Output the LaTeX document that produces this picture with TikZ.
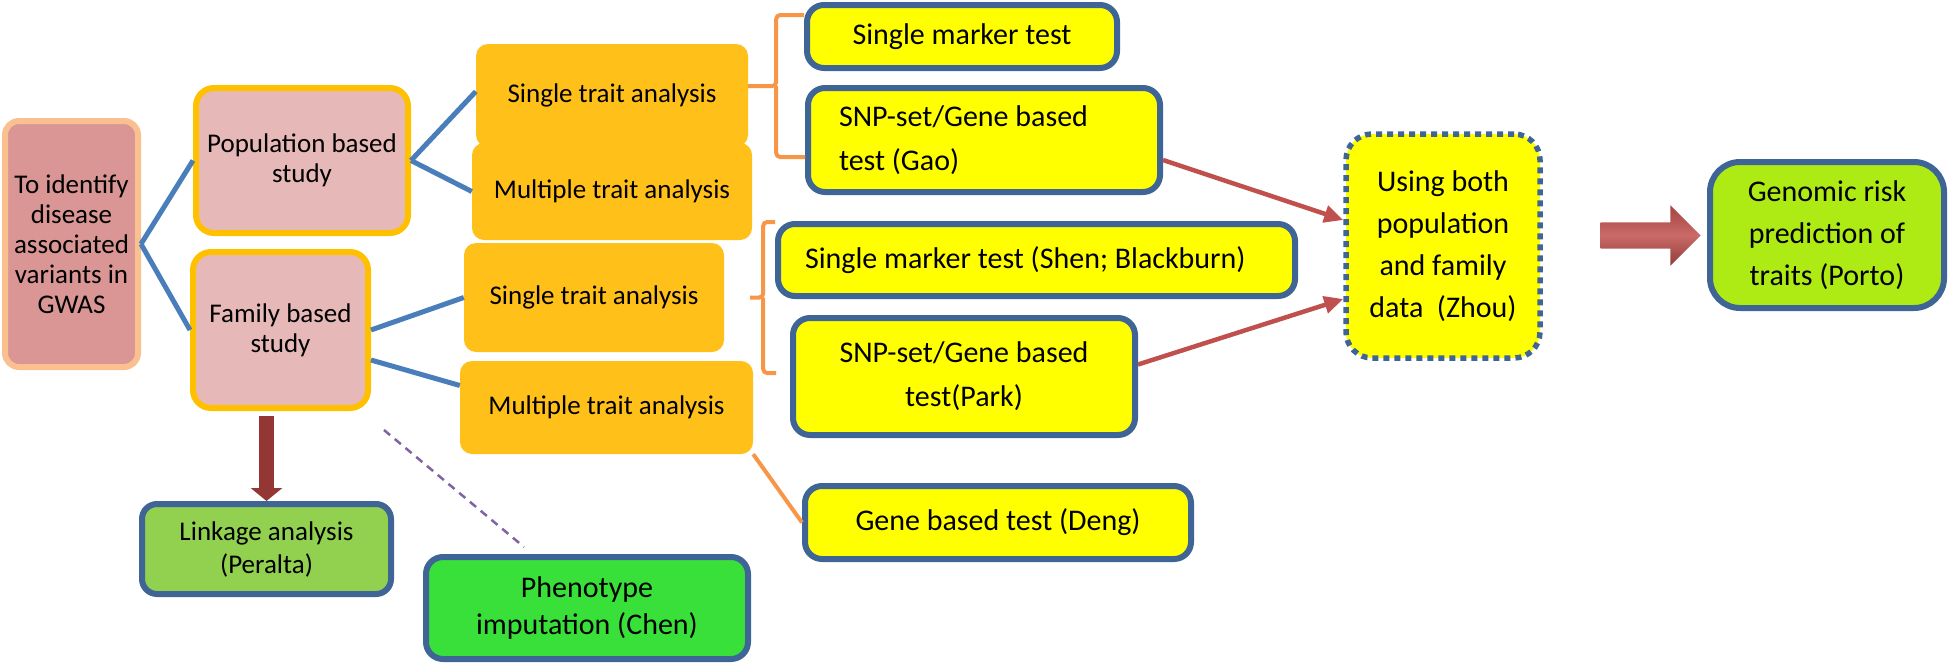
\documentclass[tikz,border=0pt]{standalone}
\usepackage{fontspec}
\setmainfont{Carlito}
\usepackage{tikz}
\usetikzlibrary{positioning, arrows, arrows.meta, shapes, shapes.arrows}

\definecolor{rootfill}{HTML}{D99694}
\definecolor{rootline}{HTML}{FAC090}
\definecolor{studyfill}{HTML}{E6B9B8}
\definecolor{studyline}{HTML}{FFC000}
\definecolor{traitfill}{HTML}{FFC01A}
\definecolor{testfill}{HTML}{FFFF00}
\definecolor{testline}{HTML}{3E6596}
\definecolor{genomicfill}{HTML}{AEEA14}
\definecolor{linkagefill}{HTML}{92D050}
\definecolor{phenofill}{HTML}{3AE03A}
\definecolor{linkblue}{HTML}{4A7EBB}
\definecolor{braceorange}{HTML}{F79646}
\definecolor{arrowred}{HTML}{C0504D}
\definecolor{darkred}{HTML}{943634}
\definecolor{dashpurple}{HTML}{8064A2}

\tikzstyle{rootbox} = [rectangle, rounded corners=14pt, minimum width=133pt, minimum height=246pt, text centered, align=center, draw=rootline, line width=6pt, fill=rootfill, font=\fontsize{27}{30}\selectfont]
\tikzstyle{study} = [rectangle, rounded corners=18pt, text centered, align=center, draw=studyline, line width=6pt, fill=studyfill, font=\fontsize{27}{30}\selectfont]
\tikzstyle{trait} = [rectangle, rounded corners=12pt, text centered, align=center, fill=traitfill, font=\fontsize{27}{31}\selectfont]
\tikzstyle{test} = [rectangle, rounded corners=17pt, text centered, align=center, draw=testline, line width=6pt, fill=testfill, font=\fontsize{30}{44}\selectfont]
\tikzstyle{result} = [rectangle, rounded corners=17pt, text centered, align=center, draw=testline, line width=6pt, font=\fontsize{30}{42}\selectfont]
\tikzstyle{blockarrow} = [single arrow, minimum height=100pt, inner xsep=0pt, inner ysep=13pt, single arrow head extend=17pt, single arrow head indent=0pt, top color=arrowred!85!black, bottom color=arrowred!75!black, middle color=arrowred!85!white]
\tikzstyle{link} = [line width=5pt, draw=linkblue]
\tikzstyle{brace} = [line width=4pt, draw=braceorange, rounded corners=4pt]
\tikzstyle{arrow} = [line width=4.5pt, draw=arrowred, ->, >={Triangle[length=19pt,width=17pt]}]
\tikzstyle{downarrow} = [line width=15pt, draw=darkred, -{Triangle[width=31pt,length=13pt]}]
\tikzstyle{dashlink} = [line width=2.5pt, draw=dashpurple, dash pattern=on 8pt off 6pt]

\begin{document}
\begin{tikzpicture}[x=1pt, y=1pt]
        \useasboundingbox (0,0) rectangle (1951,-664);

        \node (root) [rootbox] at (71.5,-244) {To identify\\disease\\associated\\variants in\\GWAS};
        \node (popstudy) [study, minimum width=212pt, minimum height=145pt] at (302,-160.5) {Population based\\study};
        \node (famstudy) [study, node distance=169.5pt, below of=popstudy, xshift=-21.5pt, minimum width=175pt, minimum height=156pt] {Family based\\study};

        \node (popsingle) [trait, minimum width=272pt, minimum height=103pt] at (612,-95.5) {Single trait analysis};
        \node (popmulti) [trait, node distance=96pt, below of=popsingle, minimum width=280pt, minimum height=97pt] {Multiple trait analysis};
        \node (famsingle) [trait, minimum width=260pt, minimum height=109pt] at (594,-297.5) {Single trait analysis};
        \node (fammulti) [trait, node distance=110pt, below of=famsingle, xshift=12.5pt, minimum width=293pt, minimum height=93pt] {Multiple trait analysis};

        \node (smt) [test, minimum width=310pt, minimum height=63pt] at (962,-36.5) {Single marker test};
        \node (snpgao) [test, node distance=103.5pt, below of=smt, xshift=22pt, minimum width=352pt, minimum height=104pt, text width=290pt, align=flush left] {SNP-set/Gene based\\test (Gao)};
        \node (smtshen) [test, node distance=120pt, below of=snpgao, xshift=52.5pt, minimum width=517pt, minimum height=72pt, text width=463pt, align=flush left] {Single marker test (Shen; Blackburn)};
        \node (snppark) [test, node distance=116.5pt, below of=smtshen, xshift=-72.5pt, minimum width=342pt, minimum height=117pt] {SNP-set/Gene based\\test(Park)};
        \node (deng) [test, node distance=146pt, below of=snppark, xshift=34pt, minimum width=386pt, minimum height=73pt] {Gene based test (Deng)};

        \node (both) [result, rounded corners=26pt, fill=testfill, dash pattern=on 6pt off 5pt, line width=5.5pt, minimum width=194pt, minimum height=224pt] at (1443,-246) {Using both\\population\\and family\\data~~(Zhou)};
        \node (bigarrow) [blockarrow, node distance=201pt, right of=both, yshift=10.5pt] {};
        \node (genomic) [result, rounded corners=30pt, fill=genomicfill, node distance=384pt, right of=both, yshift=11pt, minimum width=234pt, minimum height=146pt] {Genomic risk\\prediction of\\traits (Porto)};

        \node (linkage) [result, rounded corners=15pt, fill=linkagefill, font=\fontsize{27}{33}\selectfont, node distance=219pt, below of=famstudy, xshift=-14pt, minimum width=249pt, minimum height=90pt] {Linkage analysis\\(Peralta)};
        \node (pheno) [result, rounded corners=17pt, fill=phenofill, font=\fontsize{30}{37}\selectfont, node distance=320.5pt, right of=linkage, yshift=-59pt, minimum width=322pt, minimum height=102pt] {Phenotype\\imputation (Chen)};

        \draw [link] (root.east) -- (popstudy.west);
        \draw [link] (root.east) -- (famstudy.west);
        \draw [link] (popstudy.east) -- ([yshift=4pt]popsingle.west);
        \draw [link] (popstudy.east) -- (popmulti.west);
        \draw [link] (famstudy.east) -- (famsingle.west);
        \draw [link] ([yshift=-30pt]famstudy.east) -- ([yshift=22pt]fammulti.west);

        \draw [brace] ([yshift=9.5pt]popsingle.east) -- ++(28pt,0pt) |- ([yshift=21.5pt]smt.west);
        \draw [brace] ([yshift=9.5pt]popsingle.east) ++(28pt,0pt) |- ([yshift=-17pt]snpgao.west);
        \draw [brace] ([xshift=26pt]famsingle.east) -- ++(13pt,0pt) |- ([yshift=38pt]smtshen.west);
        \draw [brace] ([xshift=26pt]famsingle.east) ++(13pt,0pt) |- ([xshift=-14pt,yshift=3.5pt]snppark.west);
        \draw [brace] (fammulti.south east) -- (deng.west);

        \draw [arrow] ([yshift=-20pt]snpgao.east) -- ([yshift=26pt]both.west);
        \draw [arrow] ([yshift=12pt]snppark.east) -- ([yshift=-53pt]both.west);

        \draw [downarrow, shorten <=5pt] (linkage.north |- famstudy.south) -- (linkage.north);
        \draw [dashlink] ([xshift=13pt,yshift=-19pt]famstudy.south east) -- ([xshift=-63pt,yshift=7pt]pheno.north);

\end{tikzpicture}
\end{document}
